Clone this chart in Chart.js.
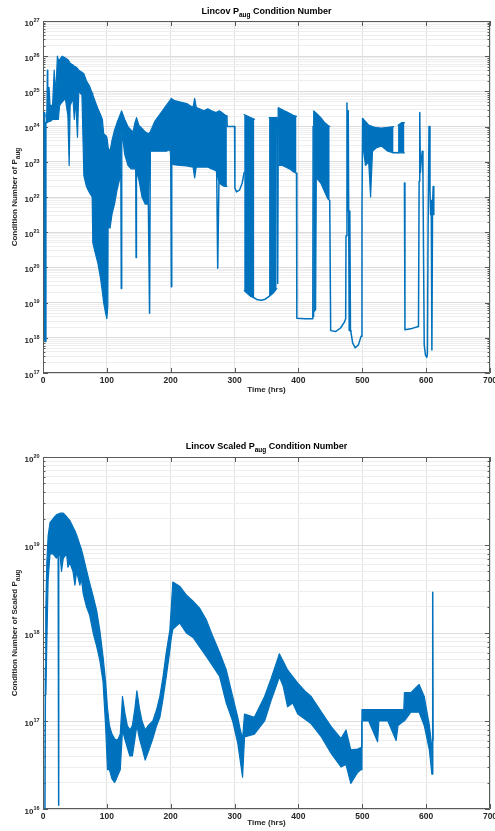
<!DOCTYPE html>
<html>
<head>
<meta charset="utf-8">
<title>Lincov P_aug Condition Number</title>
<script src="https://cdn.jsdelivr.net/npm/chart.js@4.4.1/dist/chart.umd.min.js"></script>
<style>
  body { margin: 0; background: #fff; }
  #page { position: relative; width: 495px; height: 831px; font-family: 'Liberation Sans', Arial, Helvetica, sans-serif; color: #000; }
  canvas { position: absolute; left: 0; }
  .ttl { position: absolute; left: 43px; width: 447px; text-align: center; font-weight: bold; font-size: 9px; line-height: 10px; white-space: nowrap; }
  .xl { position: absolute; left: 43px; width: 447px; text-align: center; font-weight: bold; font-size: 8px; line-height: 10px; color: #262626; }
  .yl { position: absolute; white-space: nowrap; font-weight: bold; font-size: 8px; line-height: 10px; color: #262626; transform: translate(-50%, -50%) rotate(-90deg); }
  .sub { font-size: 6.5px; position: relative; top: 2.5px; }
</style>
</head>
<body>
<div id="page">
  <canvas id="topChart" width="495" height="415" style="top:0"></canvas>
  <canvas id="bottomChart" width="495" height="416" style="top:415px"></canvas>

  <div class="ttl" style="top:6px">Lincov P<span class="sub">aug</span> Condition Number</div>
  <div class="xl" style="top:385px">Time (hrs)</div>
  <div class="yl" style="left:15px; top:197px">Condition Number of P<span class="sub">aug</span></div>

  <div class="ttl" style="top:441px">Lincov Scaled P<span class="sub">aug</span> Condition Number</div>
  <div class="xl" style="top:818px">Time (hrs)</div>
  <div class="yl" style="left:15px; top:633px">Condition Number of Scaled P<span class="sub">aug</span></div>
</div>

<script>
// ---- top plot: Lincov P_aug condition number ----
// dense oscillation drawn as a band between upper and lower envelope (null = gap)
const topBandT = [4.5, 6, 6.8, 7.6, 9.5, 11, 15, 17.5, 19, 20.5, 22.5, 24, 26, 30, 35, 39, 41, 42.5, 47, 49, 51, 54, 56, 61, 64,
  68, 73, 77, 78, 82, 86, 90, 93, 95, 98, 100, 101.5,
  102, 105, 108, 112, 116, 120, 123, 123.5,
  128, 133, 138, 141, 144, 146.5, 150, 155, 160, 165,
  168, 175, 185, 193, 199,
  201, 205, 215, 225, 235, 237.5, 240, 245, 252,
  258, 264, 271, 276, 280, 284, 288,
  300,
  315, 320, 325, 331,
  340,
  354, 358, 362, 366,
  367,
  369, 375, 380, 386, 392, 397,
  410,
  423, 424, 427, 428, 435, 441, 446, 449,
  470,
  500.5, 505, 510, 513, 516, 522, 530, 540, 549,
  552,
  556, 562, 566];
const topBandHi = [2.0e24, 2.5e24, 4.0e25, 3.2e24, 1.3e25, 4.0e24, 4.0e24, 4.0e25, 1.6e25, 1.3e25, 1.0e26, 7.9e25, 7.9e25, 1.0e26, 8.9e25, 7.9e25, 7.1e25, 6.3e25, 5.6e25, 5.2e25, 5.0e25, 4.5e25, 4.0e25, 3.5e25, 3.2e25,
  2.0e25, 1.4e25, 8.9e24, 7.9e24, 5.0e24, 3.2e24, 2.2e24, 1.6e24, 6.3e23, 5.6e23, 5.0e23, 3.2e23,
  2.5e23, 2.0e23, 4.0e23, 7.9e23, 1.3e24, 2.0e24, 2.8e24, 2.8e24,
  1.6e24, 1.0e24, 7.9e23, 7.1e23, 1.3e24, 1.8e24, 1.1e24, 8.9e23, 7.1e23, 6.3e23,
  7.1e23, 1.4e24, 2.5e24, 4.0e24, 5.6e24,
  6.3e24, 5.6e24, 5.0e24, 4.5e24, 3.5e24, 6.3e24, 3.5e24, 3.2e24, 2.8e24,
  3.2e24, 2.8e24, 2.5e24, 2.8e24, 2.5e24, 2.2e24, 2.0e24,
  null,
  2.2e24, 2.0e24, 1.8e24, 1.6e24,
  null,
  1.8e24, 1.8e24, 1.8e24, 1.8e24,
  null,
  3.4e24, 3.0e24, 2.7e24, 2.4e24, 2.1e24, 1.95e24,
  null,
  1.0e24, 2.8e24, 2.5e24, 2.4e24, 1.8e24, 1.3e24, 1.1e24, 1.0e24,
  null,
  1.7e24, 1.4e24, 1.1e24, 1.05e24, 1.0e24, 9.3e23, 9.1e23, 9.5e23, 1.0e24,
  null,
  1.1e24, 1.3e24, 1.3e24];
const topBandLo = [1.3e24, 1.3e24, 1.3e24, 1.3e24, 1.4e24, 1.4e24, 1.6e24, 1.6e24, 1.6e24, 1.6e24, 1.6e24, 1.6e24, 4.0e24, 5.0e24, 6.3e24, 2.0e24, 7.9e22, 4.0e24, 6.3e24, 1.6e24, 6.3e24, 5.0e23, 1.0e25, 7.9e24, 4.0e22,
  2.0e22, 1.3e22, 1.0e22, 5.0e20, 2.5e20, 1.3e20, 5.0e19, 2.0e19, 1.0e19, 5.0e18, 3.5e18, 7.9e18,
  1.6e21, 1.3e21, 3.2e21, 6.3e21, 1.6e22, 3.2e22, 4.0e22, 7.9e23,
  1.6e23, 7.9e22, 6.3e22, 6.3e22, 6.3e22, 5.0e22, 3.2e22, 1.0e22, 6.3e21, 6.3e21,
  2.0e23, 2.0e23, 2.0e23, 2.0e23, 2.2e23,
  8.9e22, 8.3e22, 7.9e22, 7.6e22, 7.1e22, 3.5e22, 7.1e22, 7.1e22, 7.1e22,
  7.1e22, 6.3e22, 5.6e22, 2.5e22, 2.2e22, 2.0e22, 2.0e22,
  null,
  2.2e19, 1.8e19, 1.5e19, 1.35e19,
  null,
  1.5e19, 1.7e19, 2.0e19, 2.5e19,
  null,
  7.9e22, 7.9e22, 7.1e22, 6.3e22, 5.2e22, 4.7e22,
  null,
  4.0e18, 5.5e18, 6.3e18, 3.5e22, 2.5e22, 1.4e22, 8.9e21, 7.9e21,
  null,
  3.2e23, 7.9e22, 1.0e23, 1.0e22, 2.0e23, 2.5e23, 2.8e23, 2.0e23, 1.8e23,
  null,
  1.8e23, 1.8e23, 1.8e23];
// single-line parts: spikes, jumps and the slow curves near the bottom
const topLineT = [0.5, 2, 2.6, 3.6, 4.5, 5,
  122, 122.6, 123.2, 124,
  145.3, 145.8, 146.3, 147,
  165, 166.9, 168, 169,
  200, 201, 201.6, 202,
  272, 273.6, 275.5, 276,
  288, 288.5, 300, 300.5, 303, 308, 312, 315, 316,
  331, 336, 342, 348, 354, 355,
  366, 367.5, 368.5, 369,
  397, 397.5, 410, 422.5, 423, 424,
  449, 450.5, 458, 466, 472, 474, 474.5, 476, 477, 478, 479.5, 480.5, 481.5, 482.3, 485, 489, 494, 498, 499.5, 500.5, 501,
  549, 556, 557,
  566, 566.8, 578, 588, 589, 590, 591, 592, 594, 595, 597, 599, 601, 602, 603, 604.5, 606, 607, 608, 609, 610, 611, 612];
const topLineV = [2.2e24, 2.5e24, 8.9e17, 7.9e17, 1.3e24, null,
  4.0e22, 2.5e19, 4.0e22, null,
  6.3e22, 1.9e20, 6.3e22, null,
  6.3e21, 5.0e18, 2.0e23, null,
  2.2e23, 2.8e19, 8.9e22, null,
  5.6e22, 9.5e19, 2.5e22, null,
  2.0e24, 1.0e24, 1.0e24, 1.8e22, 1.4e22, 1.6e22, 2.5e22, 5.0e22, null,
  1.35e19, 1.2e19, 1.17e19, 1.25e19, 1.5e19, null,
  1.8e24, 3.5e19, 3.4e24, null,
  4.7e22, 3.6e18, 3.5e18, 3.5e18, 1.0e24, null,
  7.9e21, 1.6e18, 1.5e18, 1.9e18, 2.8e18, 3.5e18, 7.9e20, 4.7e24, 4.0e21, 2.8e24, 1.6e18, 4.0e21, 1.6e18, 1.4e18, 7.1e17, 5.2e17, 6.3e17, 1.1e18, 4.0e21, 1.7e24, null,
  1.8e23, 1.8e23, null,
  2.5e22, 1.7e18, 1.85e18, 2.1e18, 2.8e22, 2.5e24, 5.0e22, 1.0e23, 2.0e23, 4.0e22, 6.3e17, 3.2e17, 2.8e17, 3.5e17, 1.0e21, 1.0e24, 1.6e22, 3.2e21, 7.9e21, 4.5e17, 5.0e21, 2.0e22, 3.2e21];

// ---- bottom plot: Lincov scaled P_aug condition number ----
const botBandT = [4.5, 6, 8, 11, 16, 21, 26.6, 29, 31.8, 37, 39, 42, 47, 50, 52.6, 57.8, 60, 63, 68, 73, 78.6, 84, 89, 94, 98, 101,
  104, 108, 112, 115, 118, 121, 124.5, 128, 132, 136, 140, 144, 147, 151, 155, 160, 165, 172, 178, 183, 188, 193, 198.6, 201, 203.3,
  214, 224.5, 235, 245.6, 256, 266, 276.6, 287, 297, 305, 309, 312.5,
  315.6, 331, 347, 357, 367.7, 370, 376, 383, 391, 399, 410, 420, 436, 451, 466.7, 474.5, 482, 492.7, 498,
  499.5, 510, 524, 526, 540, 553, 556, 565, 566, 576, 589, 597, 605, 609];
const botBandHi = [2.0e18, 6.3e18, 1.26e19, 1.8e19, 2.0e19, 2.2e19, 2.3e19, 2.3e19, 2.3e19, 2.1e19, 2.0e19, 1.9e19, 1.6e19, 1.45e19, 1.3e19, 1.0e19, 9.0e18, 7.4e18, 5.2e18, 3.7e18, 2.6e18, 1.8e18, 1.07e18, 5.4e17, 2.8e17, 1.4e17,
  8.9e16, 7.1e16, 6.3e16, 6.0e16, 6.3e16, 7.1e16, 1.9e17, 1.26e17, 8.9e16, 7.9e16, 8.9e16, 1.4e17, 2.2e17, 1.4e17, 1.0e17, 7.9e16, 8.9e16, 1.0e17, 1.35e17, 1.9e17, 3.2e17, 6.0e17, 1.07e18, 2.0e18, 3.8e18,
  3.4e18, 2.7e18, 2.3e18, 1.9e18, 1.4e18, 9.1e17, 6.0e17, 3.8e17, 1.9e17, 1.1e17, 7.9e16, 6.3e16,
  1.2e17, 1.1e17, 1.9e17, 3.0e17, 5.1e17, 5.8e17, 4.8e17, 3.8e17, 3.2e17, 2.7e17, 2.2e17, 1.9e17, 1.26e17, 8.7e16, 6.3e16, 7.9e16, 4.7e16, 4.8e16, 5.0e16,
  1.35e17, 1.35e17, 1.35e17, 1.35e17, 1.35e17, 1.35e17, 1.35e17, 1.35e17, 2.1e17, 2.1e17, 2.6e17, 1.9e17, 8.9e16, 5.0e16];
const botBandLo = [2.0e17, 7.9e17, 4.0e18, 7.9e18, 7.9e18, 7.1e18, 7.9e18, 5.0e18, 7.1e18, 7.9e18, 5.6e18, 6.3e18, 5.0e18, 3.5e18, 5.0e18, 3.5e18, 4.2e18, 2.8e18, 2.0e18, 1.6e18, 1.0e18, 7.1e17, 4.9e17, 2.8e17, 8.9e16, 2.8e16,
  2.8e16, 2.2e16, 2.0e16, 2.2e16, 2.5e16, 2.8e16, 7.9e16, 6.3e16, 5.0e16, 4.0e16, 4.0e16, 6.3e16, 8.9e16, 6.3e16, 5.0e16, 3.6e16, 4.5e16, 6.3e16, 8.9e16, 1.1e17, 1.8e17, 3.2e17, 6.3e17, 8.9e17, 1.1e18,
  1.3e18, 1.0e18, 8.9e17, 6.9e17, 5.4e17, 4.2e17, 3.2e17, 1.6e17, 1.0e17, 5.6e16, 3.5e16, 2.3e16,
  6.6e16, 7.1e16, 1.0e17, 1.7e17, 2.8e17, 3.2e17, 2.5e17, 1.45e17, 1.6e17, 1.2e17, 1.05e17, 9.3e16, 6.6e16, 4.3e16, 3.0e16, 3.2e16, 1.95e16, 2.6e16, 2.8e16,
  1.0e17, 1.0e17, 5.8e16, 1.0e17, 1.0e17, 6.0e16, 8.9e16, 1.0e17, 1.0e17, 1.26e17, 1.26e17, 8.9e16, 4.7e16, 2.5e16];
const botLineT = [3, 3.8, 4.5, 5, 23.8, 24.3, 24.8, 25, 609, 609.6, 610.3, 610.9];
const botLineV = [8.0e15, 4.0e17, 2.0e18, null, 7.9e18, 1.1e16, 7.9e18, null, 5.0e16, 2.5e16, 2.9e18, 6.0e16];

const xTicks = [0, 100, 200, 300, 400, 500, 600, 700];

const BLUE = '#0072bd';
const TEXT = '#262626';
const FONT = "'Liberation Sans', Arial, Helvetica, sans-serif";

function points(ts, vs) {
    return ts.map((t, i) => ({ x: t, y: vs[i] }));
}

// box round the axes with inward tick marks on all four sides (MATLAB look)
const framePlugin = {
    id: 'frame',
    beforeDatasetsDraw(chart) {
        const { ctx, chartArea: a, scales: { x, y } } = chart;
        ctx.save();
        ctx.strokeStyle = '#5a5a5a';
        ctx.lineWidth = 1;
        ctx.beginPath();
        ctx.rect(a.left + 0.5, a.top + 0.5, a.right - a.left - 1, a.bottom - a.top - 1);
        y.ticks.forEach(t => {
            const py = Math.round(y.getPixelForValue(t.value)) + 0.5;
            const len = t.major ? 5 : 2.5;
            ctx.moveTo(a.left, py);
            ctx.lineTo(a.left + len, py);
            ctx.moveTo(a.right, py);
            ctx.lineTo(a.right - len, py);
        });
        x.ticks.forEach(t => {
            const px = Math.round(x.getPixelForValue(t.value)) + 0.5;
            ctx.moveTo(px, a.bottom);
            ctx.lineTo(px, a.bottom - 5);
            ctx.moveTo(px, a.top);
            ctx.lineTo(px, a.top + 5);
        });
        ctx.stroke();
        ctx.restore();
    },
    // decade labels as 10 with a raised exponent
    afterDraw(chart) {
        const { ctx, chartArea: a, scales: { y } } = chart;
        ctx.save();
        ctx.fillStyle = TEXT;
        ctx.textBaseline = 'alphabetic';
        y.ticks.filter(t => t.major).forEach(t => {
            const py = y.getPixelForValue(t.value);
            const exp = String(Math.round(Math.log10(t.value)));
            ctx.font = 'bold 5.5px ' + FONT;
            const w = ctx.measureText(exp).width;
            const right = a.left - 3.5;
            ctx.textAlign = 'left';
            ctx.fillText(exp, right - w, py + 0.7);
            ctx.font = 'bold 8px ' + FONT;
            ctx.textAlign = 'right';
            ctx.fillText('10', right - w, py + 4.7);
        });
        ctx.restore();
    }
};

function makeChart(id, c) {
    return new Chart(document.getElementById(id), {
        type: 'line',
        data: {
            datasets: [
                { data: points(c.bandT, c.bandHi), borderColor: BLUE, borderWidth: 1.2, fill: false },
                { data: points(c.bandT, c.bandLo), borderColor: BLUE, borderWidth: 1.2, fill: '-1', backgroundColor: BLUE },
                { data: points(c.lineT, c.lineV), borderColor: BLUE, borderWidth: 1.5, fill: false }
            ]
        },
        options: {
            responsive: false,
            animation: false,
            events: [],
            layout: { padding: c.padding },
            elements: {
                point: { radius: 0, hitRadius: 0 },
                line: { tension: 0, borderJoinStyle: 'round', borderCapStyle: 'round' }
            },
            plugins: { legend: { display: false }, tooltip: { enabled: false } },
            scales: {
                x: {
                    type: 'linear',
                    min: 0,
                    max: 700,
                    afterBuildTicks: s => { s.ticks = xTicks.map(v => ({ value: v })); },
                    afterFit: s => { s.height = 20; s.paddingLeft = 0; s.paddingRight = 0; },
                    border: { display: false },
                    grid: { color: '#e2e2e2', drawTicks: false },
                    ticks: { padding: 3, color: TEXT, font: { family: FONT, size: 8.5, weight: 'bold' }, maxRotation: 0 }
                },
                y: {
                    type: 'logarithmic',
                    min: Math.pow(10, c.expLo),
                    max: Math.pow(10, c.expHi),
                    afterBuildTicks: s => {
                        const ticks = [];
                        for (let e = c.expLo; e < c.expHi; e++) {
                            for (let m = 1; m <= 9; m++) ticks.push({ value: m * Math.pow(10, e), major: m === 1 });
                        }
                        ticks.push({ value: Math.pow(10, c.expHi), major: true });
                        s.ticks = ticks;
                    },
                    afterFit: s => { s.width = 43; s.paddingTop = 0; s.paddingBottom = 0; },
                    border: { display: false },
                    grid: {
                        drawTicks: false,
                        color: ctx => (ctx.tick && ctx.tick.major) ? '#dcdcdc' : '#eeeeee'
                    },
                    ticks: { display: false, autoSkip: false }
                }
            }
        },
        plugins: [framePlugin]
    });
}

makeChart('topChart', {
    bandT: topBandT, bandHi: topBandHi, bandLo: topBandLo,
    lineT: topLineT, lineV: topLineV,
    expLo: 17, expHi: 27,
    padding: { top: 21, right: 5, bottom: 22, left: 0 }
});

makeChart('bottomChart', {
    bandT: botBandT, bandHi: botBandHi, bandLo: botBandLo,
    lineT: botLineT, lineV: botLineV,
    expLo: 16, expHi: 20,
    padding: { top: 42, right: 5, bottom: 2, left: 0 }
});
</script>
</body>
</html>
